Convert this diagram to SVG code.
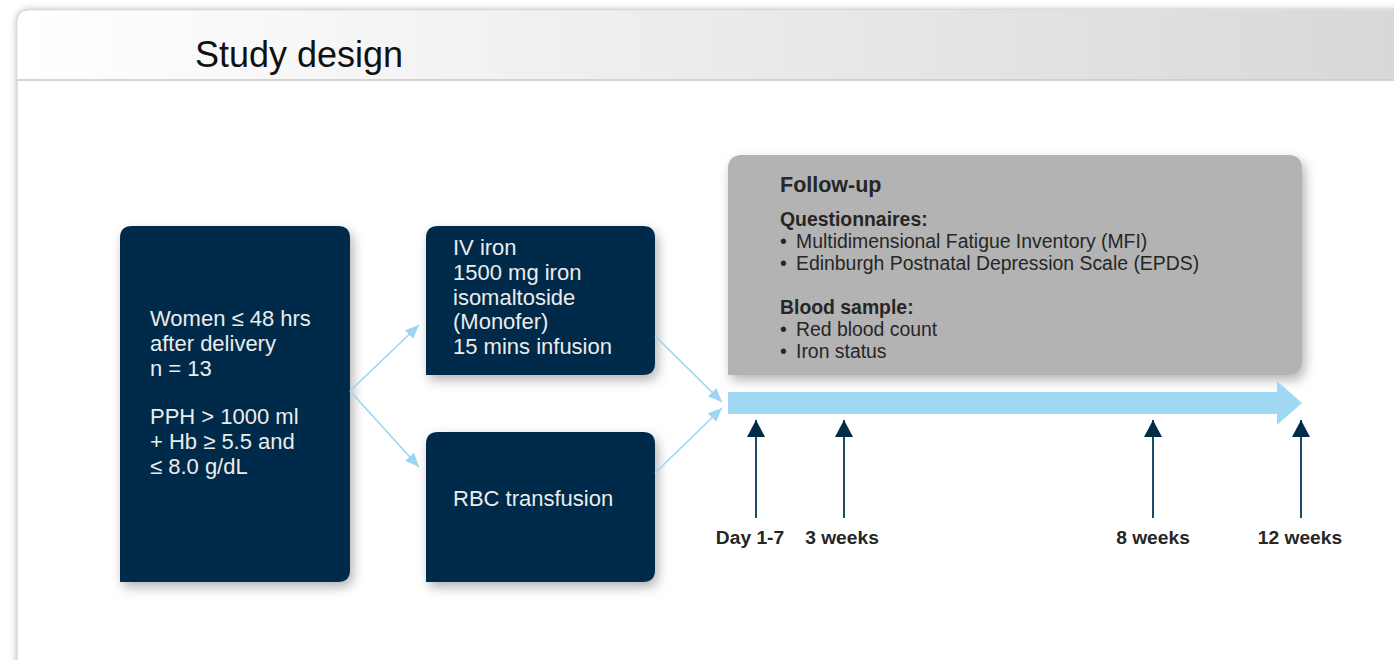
<svg xmlns="http://www.w3.org/2000/svg" width="1394" height="660" viewBox="0 0 1394 660">
<defs>
<linearGradient id="hdr" x1="0" y1="0" x2="1" y2="0">
<stop offset="0" stop-color="#ffffff"/>
<stop offset="1" stop-color="#d8d8d8"/>
</linearGradient>
<filter id="frameShadow" x="-5%" y="-5%" width="110%" height="110%">
<feDropShadow dx="0" dy="0" stdDeviation="3.5" flood-color="#000" flood-opacity="0.28"/>
</filter>
<filter id="shadow" x="-20%" y="-20%" width="140%" height="140%">
<feDropShadow dx="3" dy="5" stdDeviation="6" flood-color="#000" flood-opacity="0.3"/>
</filter>
<marker id="ah" viewBox="0 0 14 12" refX="14" refY="6" markerWidth="14" markerHeight="12" markerUnits="userSpaceOnUse" orient="auto">
<path d="M0,0 L14,6 L0,12 Z" fill="#9dd5f2"/>
</marker>
<marker id="up" viewBox="0 0 18 18" refX="17" refY="9" markerWidth="18" markerHeight="18" markerUnits="userSpaceOnUse" orient="auto">
<path d="M0,0 L17,9 L0,18 Z" fill="#012c48"/>
</marker>
</defs>
<style>
.node{fill:#012c48;filter:url(#shadow);}
.ntxt{font-family:"Liberation Sans",Arial,sans-serif;font-size:22px;fill:#ececec;}
.ftxt{font-family:"Liberation Sans",Arial,sans-serif;font-size:19.4px;fill:#262626;}
.fb{font-weight:bold;}
.conn{stroke:#9dd5f2;stroke-width:1.6;fill:none;marker-end:url(#ah);}
.tick{stroke:#1e4a66;stroke-width:2;fill:none;marker-end:url(#up);}
.tl{font-family:"Liberation Sans",Arial,sans-serif;font-size:19.2px;font-weight:bold;fill:#262626;text-anchor:middle;}
</style>
<rect width="1394" height="660" fill="#ffffff"/>
<g id="frame">
<path d="M17,670 V22 Q17,10 29,10 H1400 V670 Z" fill="#ffffff" stroke="#c8c8c8" stroke-width="1" filter="url(#frameShadow)"/>
<path d="M17.5,80 V22 Q17.5,10.5 29,10.5 H1394 V80 Z" fill="url(#hdr)"/>
<line x1="17" y1="80" x2="1394" y2="80" stroke="#c8c8c8" stroke-width="1.5"/>
<text x="195" y="67" font-family="Liberation Sans, Arial, sans-serif" font-size="36" fill="#111">Study design</text>
</g>
<g id="followup">
<path class="node" d="M728,375 V169 Q728,155 742,155 H1288 Q1302,155 1302,169 V361 Q1302,375 1288,375 Z" style="fill:#b3b3b3"/>
<text class="ftxt fb" x="780" y="192" style="font-size:21.5px">Follow-up</text>
<text class="ftxt fb" x="780" y="226">Questionnaires:</text>
<text class="ftxt" x="780" y="248">•</text><text class="ftxt" x="796" y="248">Multidimensional Fatigue Inventory (MFI)</text>
<text class="ftxt" x="780" y="270">•</text><text class="ftxt" x="796" y="270">Edinburgh Postnatal Depression Scale (EPDS)</text>
<text class="ftxt fb" x="780" y="314">Blood sample:</text>
<text class="ftxt" x="780" y="336">•</text><text class="ftxt" x="796" y="336">Red blood count</text>
<text class="ftxt" x="780" y="358">•</text><text class="ftxt" x="796" y="358">Iron status</text>
</g>
<g id="women">
<path class="node" d="M120,582 V238 Q120,226 132,226 H338 Q350,226 350,238 V570 Q350,582 338,582 Z"/>
<text class="ntxt" x="150" y="326">Women ≤ 48 hrs</text>
<text class="ntxt" x="150" y="351">after delivery</text>
<text class="ntxt" x="150" y="376">n = 13</text>
<text class="ntxt" x="150" y="424">PPH &gt; 1000 ml</text>
<text class="ntxt" x="150" y="449">+ Hb ≥ 5.5 and</text>
<text class="ntxt" x="150" y="474">≤ 8.0 g/dL</text>
</g>
<g id="iviron">
<path class="node" d="M426,375 V238 Q426,226 438,226 H643 Q655,226 655,238 V363 Q655,375 643,375 Z"/>
<text class="ntxt" x="453" y="255">IV iron</text>
<text class="ntxt" x="453" y="280">1500 mg iron</text>
<text class="ntxt" x="453" y="305">isomaltoside</text>
<text class="ntxt" x="453" y="329">(Monofer)</text>
<text class="ntxt" x="453" y="354">15 mins infusion</text>
</g>
<g id="rbc">
<path class="node" d="M426,582 V444 Q426,432 438,432 H643 Q655,432 655,444 V570 Q655,582 643,582 Z"/>
<text class="ntxt" x="453" y="506">RBC transfusion</text>
</g>
<g id="timeline">
<path d="M728,392 H1277 V381 L1302,403 L1277,425 V414 H728 Z" fill="#a1d9f5"/>
</g>
<g id="connectors">
<path class="conn" d="M350,391 L419,325"/>
<path class="conn" d="M350,391 L419,467"/>
<path class="conn" d="M655,336 L722,402"/>
<path class="conn" d="M655,473 L722,408"/>
<path class="tick" d="M756,518 V420"/>
<path class="tick" d="M844,518 V420"/>
<path class="tick" d="M1153,518 V420"/>
<path class="tick" d="M1301,518 V420"/>
</g>
<g id="labels">
<text class="tl" x="750" y="544">Day 1-7</text>
<text class="tl" x="842" y="544">3 weeks</text>
<text class="tl" x="1153" y="544">8 weeks</text>
<text class="tl" x="1300" y="544">12 weeks</text>
</g>
</svg>
